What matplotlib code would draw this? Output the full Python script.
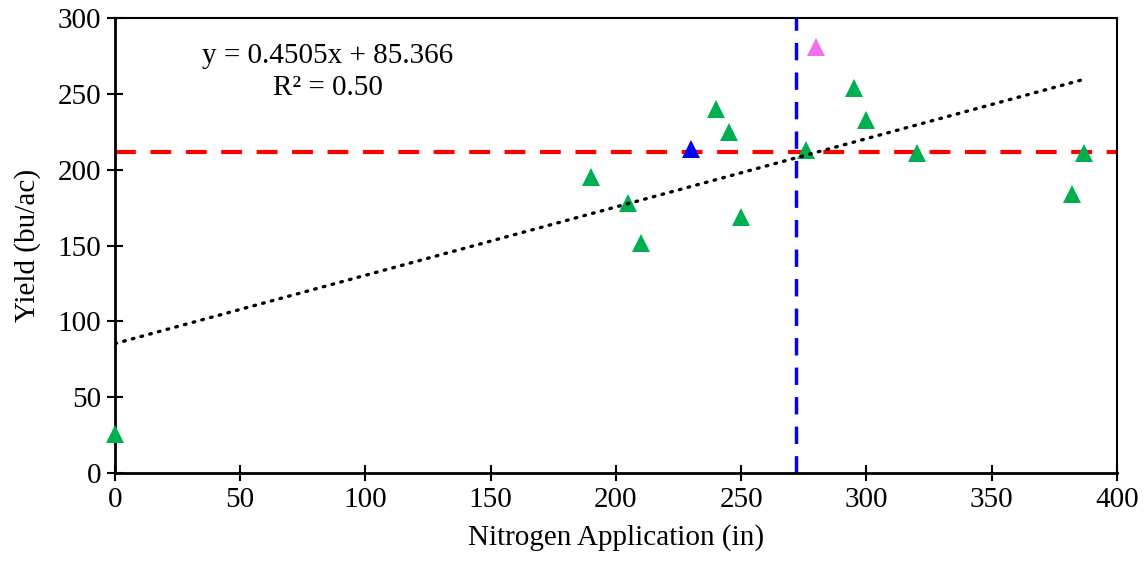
import matplotlib.pyplot as plt
import numpy as np

plt.rcParams['font.family'] = ['Liberation Serif', 'DejaVu Serif']

# --- Data ---
n_green = [0, 190, 205, 210, 240, 245, 250, 276, 295, 300, 320, 382, 387]
y_green = [26, 195, 178, 152, 240, 225, 169, 213, 254, 233, 211, 184, 211]
n_blue = [230]
y_blue = [214]
n_pink = [280]
y_pink = [281]

slope, intercept = 0.4505, 85.366
r2 = 0.50
y_ref = 212      # horizontal reference
n_ref = 272      # vertical reference

x_ticks = [0, 50, 100, 150, 200, 250, 300, 350, 400]
y_ticks = [0, 50, 100, 150, 200, 250, 300]

# --- Plotting ---
fig = plt.figure(figsize=(11.45, 5.66), dpi=100)
ax = fig.add_axes([0.1004, 0.1643, 0.8751, 0.8037])

ax.axhline(y_ref, color='#FF0000', lw=3, ls=(0, (5, 3.5)), zorder=2)
ax.axvline(n_ref, color='#0000FF', lw=2.5, ls=(0, (5, 3.5)), zorder=2)

mk = dict(marker='^', ls='none', ms=13.5, mew=0, zorder=3, clip_on=False)
ax.plot(n_green, y_green, color='#00B050', **mk)
ax.plot(n_blue, y_blue, color='#0000FF', **mk)
ax.plot(n_pink, y_pink, color='#F070F0', **mk)

# Linear trendline
xt = np.array([0, max(n_green)])
ax.plot(xt, slope * xt + intercept, color='black', lw=2.4, ls=(0, (0.5, 2.2)),
        dash_capstyle='round', zorder=4)

ax.text(85, 264.5, f'y = {slope}x + {intercept}\nR² = {r2:.2f}', ha='center', va='center',
        fontsize=21, multialignment='center', linespacing=1.3)

# Styling
ax.set_xlim(0, 400)
ax.set_ylim(0, 300)
ax.set_xticks(x_ticks)
ax.set_yticks(y_ticks)
ax.set_xlabel('Nitrogen Application (in)', fontsize=21, labelpad=8)
ax.set_ylabel('Yield (bu/ac)', fontsize=21, labelpad=12)
ax.tick_params(direction='inout', length=12, width=1.5, labelsize=21, pad=4)
for s in ax.spines.values():
    s.set_linewidth(1.5)
ax.spines['left'].set_linewidth(2)
ax.spines['bottom'].set_linewidth(2)

fig.savefig('out.png', dpi=100)
